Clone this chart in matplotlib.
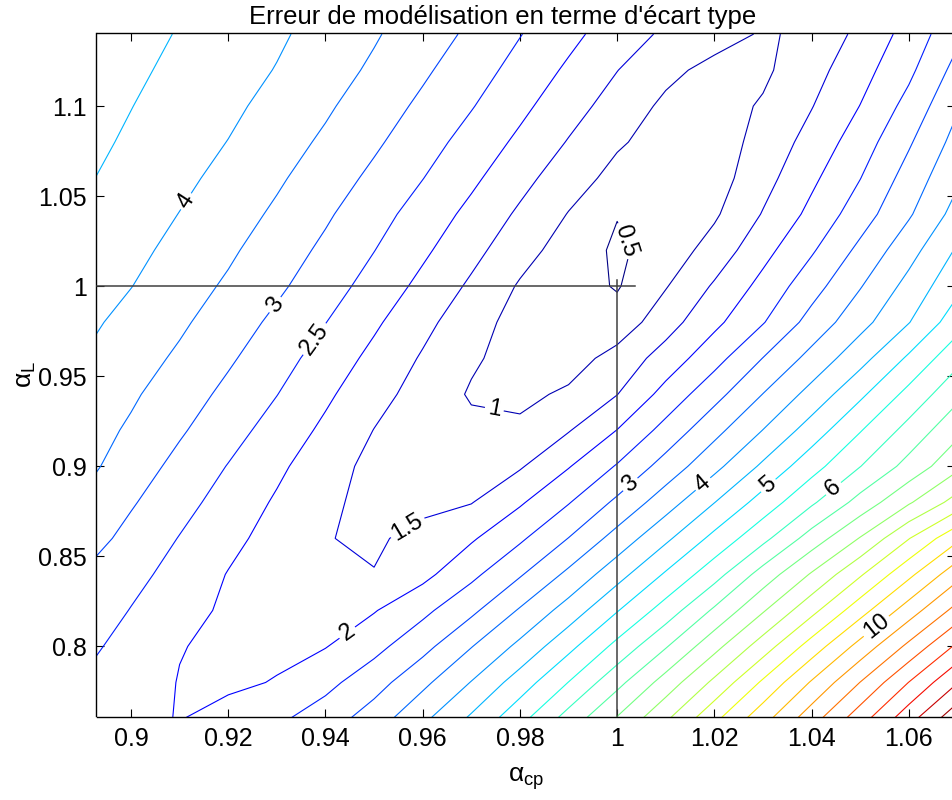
import numpy as np
import matplotlib
matplotlib.use("Agg")
import matplotlib.pyplot as plt
from matplotlib.colors import Normalize

# Grid of the two scaling factors
alpha_cp = [0.89, 0.90, 0.91, 0.92, 0.93, 0.94, 0.95, 0.96, 0.97, 0.98,
            0.99, 1.00, 1.01, 1.02, 1.03, 1.04, 1.05, 1.06, 1.07]
alpha_L = [0.76, 0.78, 0.80, 0.82, 0.84, 0.86, 0.88, 0.90, 0.92, 0.94,
           0.96, 0.98, 1.00, 1.02, 1.04, 1.06, 1.08, 1.10, 1.12, 1.14]

# Standard-deviation error, one row per alpha_L value (columns follow alpha_cp)
err_076 = [2.30, 2.12, 1.98, 2.19, 2.41, 2.74, 3.25, 3.89, 4.58, 5.34, 6.20, 7.04, 7.92, 8.88, 9.82, 10.79, 11.79, 12.81, 13.88]
err_078 = [2.47, 2.24, 1.98, 1.90, 2.03, 2.36, 2.79, 3.38, 4.02, 4.74, 5.51, 6.35, 7.21, 8.11, 9.08, 10.05, 11.01, 12.01, 12.98]
err_080 = [2.62, 2.34, 2.02, 1.90, 1.88, 1.98, 2.35, 2.84, 3.48, 4.12, 4.86, 5.64, 6.46, 7.34, 8.25, 9.22, 10.18, 11.12, 12.10]
err_082 = [2.84, 2.48, 2.17, 1.92, 1.80, 1.78, 1.97, 2.38, 2.89, 3.55, 4.21, 4.97, 5.72, 6.58, 7.45, 8.35, 9.30, 10.25, 11.18]
err_084 = [2.98, 2.66, 2.31, 1.98, 1.80, 1.60, 1.52, 1.86, 2.38, 2.95, 3.61, 4.31, 5.06, 5.80, 6.71, 7.55, 8.44, 9.38, 10.33]
err_086 = [3.24, 2.85, 2.48, 2.13, 1.82, 1.52, 1.42, 1.67, 1.94, 2.42, 3.01, 3.69, 4.40, 5.14, 5.86, 6.72, 7.53, 8.48, 9.40]
err_088 = [3.44, 3.05, 2.67, 2.30, 1.94, 1.58, 1.38, 1.36, 1.48, 1.94, 2.47, 3.10, 3.77, 4.49, 5.21, 5.92, 6.68, 7.44, 8.21]
err_090 = [3.65, 3.25, 2.86, 2.48, 2.10, 1.71, 1.36, 1.25, 1.22, 1.45, 1.97, 2.54, 3.20, 3.86, 4.59, 5.31, 5.99, 6.67, 7.38]
err_092 = [3.73, 3.43, 3.06, 2.69, 2.30, 1.90, 1.49, 1.25, 1.12, 1.10, 1.47, 2.01, 2.67, 3.35, 4.01, 4.73, 5.47, 6.17, 6.87]
err_094 = [3.85, 3.57, 3.24, 2.88, 2.51, 2.09, 1.67, 1.31, 0.95, 0.88, 1.08, 1.49, 2.17, 2.83, 3.51, 4.17, 4.90, 5.65, 6.37]
err_096 = [3.99, 3.72, 3.42, 3.07, 2.70, 2.29, 1.87, 1.45, 1.07, 0.80, 0.78, 1.18, 1.71, 2.32, 3.01, 3.66, 4.32, 5.08, 5.86]
err_098 = [4.12, 3.85, 3.58, 3.25, 2.89, 2.51, 2.08, 1.64, 1.20, 0.82, 0.68, 0.70, 1.29, 1.88, 2.47, 3.18, 3.83, 4.48, 5.29]
err_100 = [4.27, 4.01, 3.72, 3.43, 3.09, 2.72, 2.31, 1.87, 1.42, 0.95, 0.72, 0.46, 0.97, 1.56, 2.15, 2.80, 3.47, 4.16, 4.88]
err_102 = [4.38, 4.13, 3.86, 3.58, 3.25, 2.90, 2.51, 2.09, 1.65, 1.19, 0.78, 0.42, 0.72, 1.20, 1.84, 2.44, 3.12, 3.81, 4.56]
err_104 = [4.47, 4.24, 3.99, 3.72, 3.42, 3.07, 2.69, 2.29, 1.87, 1.42, 0.98, 0.52, 0.68, 0.93, 1.53, 2.13, 2.76, 3.44, 4.19]
err_106 = [4.56, 4.33, 4.11, 3.86, 3.57, 3.25, 2.89, 2.51, 2.10, 1.66, 1.22, 0.85, 0.72, 0.78, 1.32, 1.90, 2.49, 3.20, 3.92]
err_108 = [4.64, 4.43, 4.21, 3.99, 3.71, 3.42, 3.08, 2.71, 2.31, 1.90, 1.47, 1.06, 0.80, 0.75, 1.17, 1.68, 2.25, 2.94, 3.68]
err_110 = [4.72, 4.51, 4.30, 4.10, 3.85, 3.57, 3.25, 2.90, 2.53, 2.12, 1.70, 1.29, 0.90, 0.80, 1.05, 1.48, 2.01, 2.66, 3.45]
err_112 = [4.79, 4.59, 4.39, 4.19, 3.98, 3.71, 3.42, 3.08, 2.72, 2.33, 1.92, 1.51, 1.13, 0.85, 0.91, 1.32, 1.81, 2.39, 3.17]
err_114 = [4.88, 4.67, 4.47, 4.27, 4.07, 3.83, 3.55, 3.24, 2.91, 2.52, 2.14, 1.74, 1.42, 1.21, 0.95, 1.09, 1.64, 2.17, 2.89]

err_rows = [err_076, err_078, err_080, err_082, err_084, err_086, err_088,
            err_090, err_092, err_094, err_096, err_098, err_100, err_102,
            err_104, err_106, err_108, err_110, err_112, err_114]

# Iso-lines every 0.5
levels = [0.5, 1.0, 1.5, 2.0, 2.5, 3.0, 3.5, 4.0, 4.5, 5.0, 5.5, 6.0, 6.5,
          7.0, 7.5, 8.0, 8.5, 9.0, 9.5, 10.0, 10.5, 11.0, 11.5, 12.0, 12.5,
          13.0, 13.5]

# Labelled iso-lines and where their labels sit
label_levels = [4.0, 3.0, 2.5, 0.5, 1.0, 1.5, 2.0, 3.0, 4.0, 5.0, 6.0, 10.0]
label_cp = [0.9119, 0.9298, 0.9381, 1.0025, 0.9745, 0.9576, 0.9449,
            1.0027, 1.0179, 1.0307, 1.0436, 1.0535]
label_L = [1.0461, 0.9894, 0.9700, 1.0260, 0.9283, 0.8628, 0.8061,
           0.8900, 0.8894, 0.8906, 0.8906, 0.8106]

# Nominal point (alpha_cp = 1, alpha_L = 1)
nominal_cp = 1.0
nominal_L = 1.0

xticks = [0.90, 0.92, 0.94, 0.96, 0.98, 1.00, 1.02, 1.04, 1.06]
xtick_labels = ["0.9", "0.92", "0.94", "0.96", "0.98", "1", "1.02", "1.04", "1.06"]
yticks = [0.80, 0.85, 0.90, 0.95, 1.00, 1.05, 1.10]
ytick_labels = ["0.8", "0.85", "0.9", "0.95", "1", "1.05", "1.1"]

plt.rcParams["font.family"] = ["Liberation Sans", "DejaVu Sans"]
plt.rcParams["mathtext.fontset"] = "custom"
plt.rcParams["mathtext.rm"] = "Liberation Sans"
plt.rcParams["mathtext.it"] = "Liberation Sans"

W, H = 953, 800
fig = plt.figure(figsize=(W / 100, H / 100), dpi=100)
ax_left, ax_right, ax_top, ax_bottom = 96.5, 955, 33, 716.5
ax = fig.add_axes([ax_left / W, 1 - ax_bottom / H,
                   (ax_right - ax_left) / W, (ax_bottom - ax_top) / H])

xlim = (0.8929, 1.0695)
ylim = (0.7611, 1.1406)
ax.set_xlim(*xlim)
ax.set_ylim(*ylim)

Z = np.array(err_rows)
X, Y = np.meshgrid(alpha_cp, alpha_L)
norm = Normalize(vmin=Z.min(), vmax=Z.max())
cs = ax.contour(X, Y, Z, levels=levels, cmap="jet", norm=norm, linewidths=0.8)


def nearest_on_path(path, p0, tr):
    """Closest point (data coords) of a contour path to p0, measured on screen."""
    verts = path.vertices
    codes = path.codes
    pv = tr.transform(verts)
    q = tr.transform([p0])[0]
    best, best_d = None, np.inf
    for i in range(len(pv) - 1):
        if codes is not None and codes[i + 1] == 1:
            continue
        a, b = pv[i], pv[i + 1]
        ab = b - a
        L2 = ab @ ab
        t = 0.0 if L2 == 0 else np.clip((q - a) @ ab / L2, 0, 1)
        c = a + t * ab
        d = ((q - c) ** 2).sum()
        if d < best_d:
            best_d, best = d, c
    return tuple(tr.inverted().transform([best])[0])


anchors = [nearest_on_path(cs.get_paths()[levels.index(lv)], (x, y), ax.transData)
           for lv, x, y in zip(label_levels, label_cp, label_L)]

cs.clabel(levels=levels, manual=anchors, inline=True, inline_spacing=3,
          fontsize=17, colors="k", fmt=lambda v: f"{v:g}")

# Reference cross at the nominal point
ax.plot([xlim[0], nominal_cp + 0.0037], [nominal_L, nominal_L],
        color="#404040", lw=1.1, zorder=3)
ax.plot([nominal_cp, nominal_cp], [ylim[0], nominal_L + 0.0033],
        color="#404040", lw=1.1, zorder=3)

ax.set_xticks(xticks)
ax.set_xticklabels(xtick_labels)
ax.set_yticks(yticks)
ax.set_yticklabels(ytick_labels)
ax.tick_params(direction="in", length=6, width=0.8, top=True, right=True,
               labelsize=18, pad=7, colors="k")
ax.tick_params(axis="x", pad=7.5)
for s in ax.spines.values():
    s.set_linewidth(1.0)

fig.text(503 / W, 1 - 17 / H, "Erreur de modélisation en terme d'écart type",
         fontsize=18.5, ha="center", va="center")
ax.set_xlabel(r"$\alpha_{cp}$", fontsize=19, labelpad=10)
ax.set_ylabel(r"$\alpha_{L}$", fontsize=19, labelpad=0)

fig.savefig("out.png", dpi=100)
